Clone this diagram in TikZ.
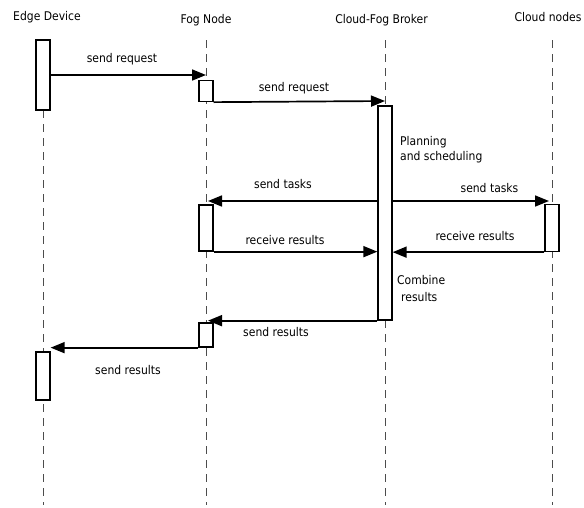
\documentclass[tikz,border=0pt]{standalone}
\usepackage{fontspec}
\setmainfont{DejaVu Sans Condensed}
\usetikzlibrary{arrows.meta}
\begin{document}
\begin{tikzpicture}[x=1pt,y=-1pt,
  life/.style={draw=black!70,line width=0.7pt,dash pattern=on 8pt off 6pt},
  act/.style={draw,fill=white,line width=1.3pt,inner sep=0pt,minimum width=14pt},
  msg/.style={line width=1.7pt,-{Triangle[length=14pt,width=11pt]}},
  lbl/.style={font=\fontsize{12}{14}\selectfont,inner sep=0pt},
  head/.style={font=\fontsize{12}{14}\selectfont,inner sep=0pt}]
\useasboundingbox (0,0) rectangle (584,507);
% headers
\node[head] (hE) at (47,17) {Edge Device};
\node[head] (hF) at (206,20) {Fog Node};
\node[head] (hB) at (381.5,20) {Cloud-Fog Broker};
\node[head] (hC) at (548,17) {Cloud nodes};
% lifeline end points
\coordinate (lEb) at (43,505);
\coordinate (lFt) at (206,40); \coordinate (lFb) at (206,505);
\coordinate (lBt) at (385,40); \coordinate (lBb) at (385,505);
\coordinate (lCt) at (552,40); \coordinate (lCb) at (552,505);
\draw[life] (lFt) -- (lFb);
\draw[life] (lBt) -- (lBb);
\draw[life] (lCt) -- (lCb);
\draw[life] (43,110) -- (lEb);
% activation boxes
\node[act,minimum height=70pt] (e1) at (43,75) {};
\node[act,minimum height=48pt] (e2) at (43,376) {};
\node[act,minimum height=21pt] (f1) at (206,91) {};
\node[act,minimum height=46pt] (f2) at (206,228) {};
\node[act,minimum height=24pt] (f3) at (206,335) {};
\node[act,minimum height=214pt] (b1) at (385,213) {};
\node[act,minimum height=47pt] (c1) at (552,228) {};
% tips
\coordinate (t1) at (206,75);
\coordinate (t2) at (385,101);
\coordinate (t3) at (208,201);
\coordinate (t4) at (549,201);
\coordinate (t5) at (208,317);
% messages
\draw[msg] (e1.east |- t1) -- (t1);
\draw[msg] (f1.south east) -- (t2);
\draw[msg] (b1.west |- t3) -- (t3);
\draw[msg] (b1.east |- t4) -- (t4);
\draw[msg] (f2.south east) -- (b1.west |- f2.south);
\draw[msg] (c1.south west) -- (b1.east |- c1.south);
\draw[msg] (b1.south west) -- (t5 |- b1.south west);
\draw[msg] (f3.south west) -- (e2.east |- f3.south);
% labels
\node[lbl] (m1) at (122,59) {send request};
\node[lbl] (m2) at (294,88) {send request};
\node[lbl,anchor=west] (p1) at (400,142) {Planning};
\node[lbl,anchor=west] (p2) at (400,157) {and scheduling};
\node[lbl] (m3) at (283,184) {send tasks};
\node[lbl] (m4) at (489.5,188) {send tasks};
\node[lbl] (m5) at (285,240) {receive results};
\node[lbl] (m6) at (475,236) {receive results};
\node[lbl,anchor=west] (q1) at (397,280) {Combine};
\node[lbl,anchor=west] (q2) at (401,297) {results};
\node[lbl] (m7) at (276,332) {send results};
\node[lbl] (m8) at (128,370) {send results};
\end{tikzpicture}
\end{document}
